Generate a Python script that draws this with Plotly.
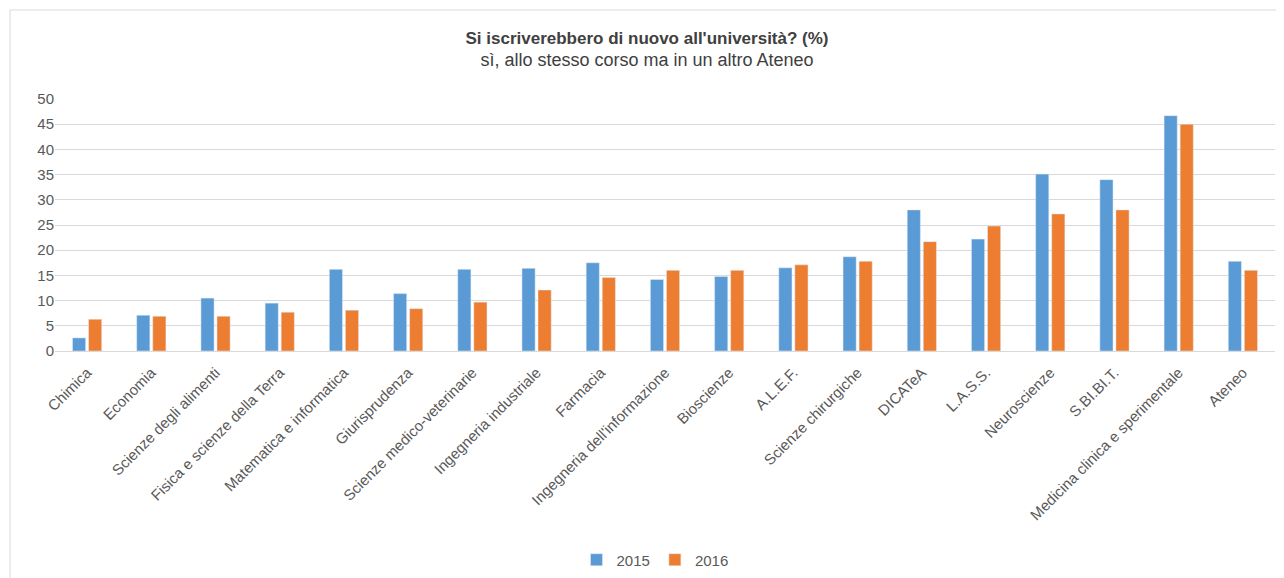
import plotly.graph_objects as go

categories = [
    "Chimica", "Economia", "Scienze degli alimenti", "Fisica e scienze della Terra",
    "Matematica e informatica", "Giurisprudenza", "Scienze medico-veterinarie",
    "Ingegneria industriale", "Farmacia", "Ingegneria dell'informazione",
    "Bioscienze", "A.L.E.F.", "Scienze chirurgiche", "DICATeA", "L.A.S.S.",
    "Neuroscienze", "S.BI.BI.T.", "Medicina clinica e sperimentale", "Ateneo",
]
y2015 = [2.6, 7.1, 10.5, 9.5, 16.2, 11.4, 16.2, 16.4, 17.5, 14.2,
         14.8, 16.5, 18.7, 28.0, 22.2, 35.1, 34.0, 46.7, 17.8]
y2016 = [6.3, 6.9, 6.9, 7.7, 8.1, 8.4, 9.7, 12.1, 14.6, 16.0,
         16.0, 17.1, 17.8, 21.7, 24.8, 27.2, 28.0, 45.0, 16.0]

font = "Liberation Sans, Arial, sans-serif"

fig = go.Figure()
fig.add_trace(go.Bar(x=categories, y=y2015, name="2015", marker_color="#5B9BD5"))
fig.add_trace(go.Bar(x=categories, y=y2016, name="2016", marker_color="#ED7D31"))

# outer chart frame like the Excel chart area
fig.add_shape(type="rect", xref="paper", yref="paper",
              x0=(10 - 55) / 1220, x1=1.02, y0=-1.0, y1=1 + (99 - 10) / 252,
              line=dict(color="#D9D9D9", width=1), fillcolor="rgba(0,0,0,0)")

# the page body adds 8px, so the figure is drawn 8px smaller/shifted
fig.update_layout(
    width=1276, height=570,
    margin=dict(l=47, r=9, t=91, b=227, autoexpand=False),
    paper_bgcolor="white", plot_bgcolor="white",
    barmode="group", bargap=0.5, bargroupgap=0.18,
    font=dict(family=font, color="#595959", size=15),
    title=dict(
        text="<b>Si iscriverebbero di nuovo all'università? (%)</b><br>"
             "<span style='font-size:18px'>sì, allo stesso corso ma in un altro Ateneo</span>",
        x=639 / 1276, xanchor="center", xref="container",
        y=1 - 36 / 570, yanchor="top", yref="container",
        font=dict(family=font, size=17, color="#404040"),
    ),
    xaxis=dict(tickangle=-45, tickfont=dict(size=15, color="#595959"),
               showline=True, linecolor="#D9D9D9", ticks="", automargin=False,
               ticklabelstandoff=6),
    yaxis=dict(range=[0, 50], dtick=5, gridcolor="#D9D9D9", gridwidth=1,
               zeroline=False, tickfont=dict(size=15, color="#595959"),
               ticks="", automargin=False),
    legend=dict(orientation="h", x=(655 - 55) / 1220, xanchor="center",
                y=(351 - 560) / 252, yanchor="middle", itemwidth=30,
                font=dict(size=15, color="#595959")),
    showlegend=True,
)

fig.write_html("out.html")
